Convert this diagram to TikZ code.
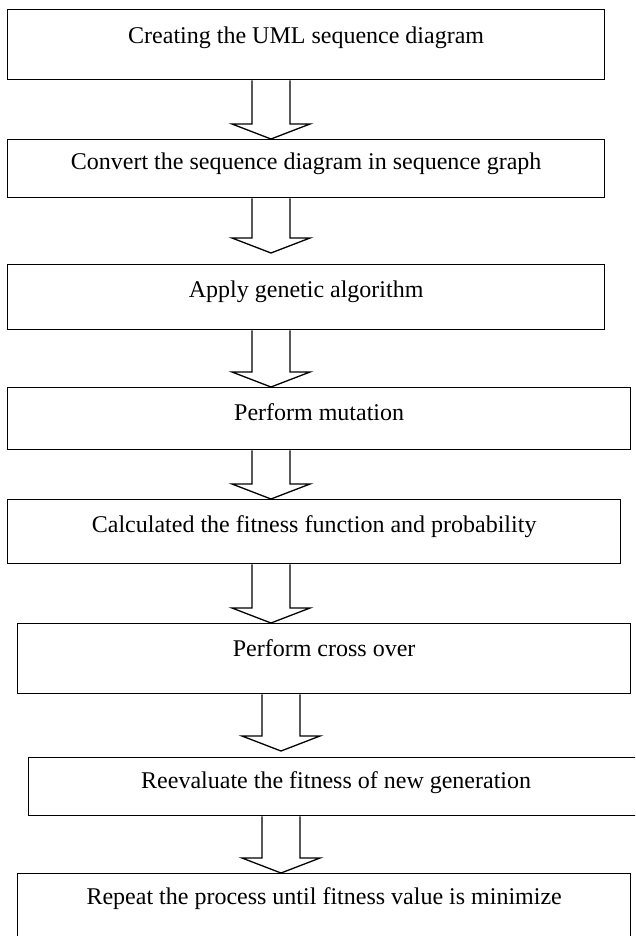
\documentclass[tikz,border=0pt]{standalone}
\usepackage{fontspec}
\setmainfont{Liberation Serif}

% hollow block arrow: #1 from node, #2 to node, #3 centre x, #4 gap above target
\newcommand{\flowarrow}[4]{%
  \path (#3,0 |- #2.north) ++(0,-#4) coordinate (tip) ++(0,-15) coordinate (sh);
  \path[arrowline] ({#3-19},0 |- #1.south) -- ({#3-19},0 |- sh) -- ({#3-39},0 |- sh)
    -- (tip) -- ({#3+39},0 |- sh) -- ({#3+19},0 |- sh) -- ({#3+19},0 |- #1.south);
}

\begin{document}
\begin{tikzpicture}[x=1pt,y=-1pt,
    stepbox/.style={draw,line width=1.3pt,anchor=north west,inner sep=0pt,font=\fontsize{24}{28}\selectfont},
    arrowline/.style={draw,line width=1.3pt}]
    \useasboundingbox (0,0) rectangle (635,936);
    \clip (0,0) rectangle (635,936);
    \node[stepbox,minimum width=597pt,text height=34pt,text depth=36pt] (b1) at (7,9) {Creating the UML sequence diagram};
    \node[stepbox,minimum width=597pt,text height=30pt,text depth=28pt] (b2) at (7,139) {Convert the sequence diagram in sequence graph};
    \node[stepbox,minimum width=597pt,text height=33pt,text depth=32pt] (b3) at (7,264) {Apply genetic algorithm};
    \node[stepbox,minimum width=623pt,text height=33pt,text depth=29pt] (b4) at (7,387) {Perform mutation};
    \node[stepbox,minimum width=613pt,text height=33pt,text depth=31pt] (b5) at (7,499) {Calculated the fitness function and probability};
    \node[stepbox,minimum width=613pt,text height=33pt,text depth=37pt] (b6) at (17,623) {Perform cross over};
    \node[stepbox,minimum width=615pt,text height=31pt,text depth=27pt] (b7) at (28,757) {Reevaluate the fitness of new generation};
    \node[stepbox,minimum width=613pt,text height=31pt,text depth=39pt] (b8) at (17,873) {Repeat the process until fitness value is minimize};
    \flowarrow{b1}{b2}{271}{0}
    \flowarrow{b2}{b3}{271}{11}
    \flowarrow{b3}{b4}{271}{0}
    \flowarrow{b4}{b5}{271}{0}
    \flowarrow{b5}{b6}{271}{0}
    \flowarrow{b6}{b7}{281}{6}
    \flowarrow{b7}{b8}{281}{0}
\end{tikzpicture}
\end{document}
